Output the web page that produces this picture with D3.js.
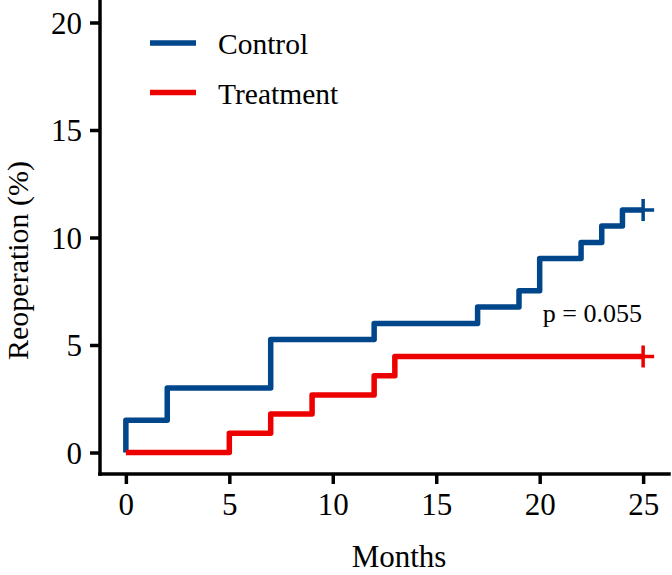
<!DOCTYPE html>
<html>
<head>
<meta charset="utf-8">
<script src="https://cdn.jsdelivr.net/npm/d3@7"></script>
<style>
  html, body { margin: 0; padding: 0; background: #fff; }
  svg { display: block; font-family: "Liberation Serif", "Times New Roman", serif; }
</style>
</head>
<body>
<svg id="chart" width="672" height="575"></svg>
<script>
// data (cumulative reoperation %, step changes)
const controlMonths = [0, 0, 2, 7, 12, 17, 19, 20, 22, 23, 24, 25];
const controlValues = [0, 1.5, 3.0, 5.26, 6.0, 6.77, 7.52, 9.02, 9.77, 10.53, 11.28, 11.28];
const treatmentMonths = [0, 5, 7, 9, 12, 13, 25];
const treatmentValues = [0, 0.89, 1.79, 2.68, 3.57, 4.46, 4.46];
const seriesNames = ["Control", "Treatment"];
const seriesColors = ["#00468B", "#ED0000"];
const xTicks = [0, 5, 10, 15, 20, 25];
const yTicks = [0, 5, 10, 15, 20];
const pLabel = "p = 0.055";

const series = [
    { name: seriesNames[0], color: seriesColors[0], values: controlMonths.map((t, i) => ({ t, v: controlValues[i] })) },
    { name: seriesNames[1], color: seriesColors[1], values: treatmentMonths.map((t, i) => ({ t, v: treatmentValues[i] })) }
];

const svg = d3.select("#chart");

// panel, ggplot style 5% expansion around the limits
const x = d3.scaleLinear().domain([-1.25, 26.25]).range([100, 669]);
const y = d3.scaleLinear().domain([-1, 21]).range([474, 1]);

const axisColor = "#000";
const axisWidth = 3.5;

//x axis
const xAxisG = svg.append("g")
    .attr("transform", `translate(0,${y.range()[0]})`)
    .call(d3.axisBottom(x).tickValues(xTicks).tickSize(10).tickSizeOuter(0).tickPadding(9));
//y axis
const yAxisG = svg.append("g")
    .attr("transform", `translate(${x.range()[0]},0)`)
    .call(d3.axisLeft(y).tickValues(yTicks).tickSize(10).tickSizeOuter(0).tickPadding(8));

[xAxisG, yAxisG].forEach(g => {
    g.select(".domain").remove();
    g.selectAll(".tick line").attr("stroke", axisColor).attr("stroke-width", axisWidth);
    g.selectAll(".tick text")
        .attr("fill", "#000")
        .attr("font-family", "Liberation Serif, Times New Roman, serif")
        .attr("font-size", 31);
});
yAxisG.selectAll(".tick text").attr("dy", "0.34em");
xAxisG.selectAll(".tick text").attr("dy", "0.72em");

//axis lines
svg.append("line")
    .attr("x1", x.range()[0]).attr("x2", x.range()[1])
    .attr("y1", y.range()[0]).attr("y2", y.range()[0])
    .attr("stroke", axisColor).attr("stroke-width", axisWidth)
    .attr("stroke-linecap", "square");
svg.append("line")
    .attr("x1", x.range()[0]).attr("x2", x.range()[0])
    .attr("y1", y.range()[0]).attr("y2", y.range()[1])
    .attr("stroke", axisColor).attr("stroke-width", axisWidth)
    .attr("stroke-linecap", "square");

//step curves
const line = d3.line()
    .x(d => x(d.t))
    .y(d => y(d.v))
    .curve(d3.curveStepAfter);

svg.append("g").attr("class", "curves")
    .selectAll("path")
    .data(series)
    .join("path")
        .attr("d", d => line(d.values))
        .attr("fill", "none")
        .attr("stroke", d => d.color)
        .attr("stroke-width", 5.5)
        .attr("stroke-linejoin", "round")
        .attr("stroke-linecap", "butt");

//censor marks at the end of each curve
const CENSOR = 11;
svg.append("g").attr("class", "censor")
    .selectAll("path")
    .data(series)
    .join("path")
        .attr("d", d => {
            const last = d.values[d.values.length - 1];
            const cx = x(last.t), cy = y(last.v);
            return `M${cx - CENSOR},${cy}H${cx + CENSOR}M${cx},${cy - CENSOR}V${cy + CENSOR}`;
        })
        .attr("fill", "none")
        .attr("stroke", d => d.color)
        .attr("stroke-width", 3.5);

//p value
svg.append("text")
    .attr("x", 642)
    .attr("y", 322)
    .attr("text-anchor", "end")
    .attr("font-size", 26)
    .attr("fill", "#000")
    .text(pLabel);

//legend
const legendG = svg.append("g").attr("class", "legend")
    .selectAll("g")
    .data(series)
    .join("g")
        .attr("transform", (d, i) => `translate(150,${43 + i * 49.5})`);
legendG.append("line")
    .attr("x1", 0).attr("x2", 46)
    .attr("stroke", d => d.color)
    .attr("stroke-width", 5.5);
legendG.append("text")
    .attr("x", 68)
    .attr("dy", "0.38em")
    .attr("font-size", 29.5)
    .attr("fill", "#000")
    .text(d => d.name);

//axis titles
svg.append("text")
    .attr("x", 399)
    .attr("y", 567)
    .attr("text-anchor", "middle")
    .attr("font-size", 31)
    .attr("fill", "#000")
    .text("Months");
svg.append("text")
    .attr("transform", "translate(28,360) rotate(-90)")
    .attr("text-anchor", "start")
    .attr("font-size", 30)
    .attr("fill", "#000")
    .text("Reoperation (%)");
</script>
</body>
</html>
